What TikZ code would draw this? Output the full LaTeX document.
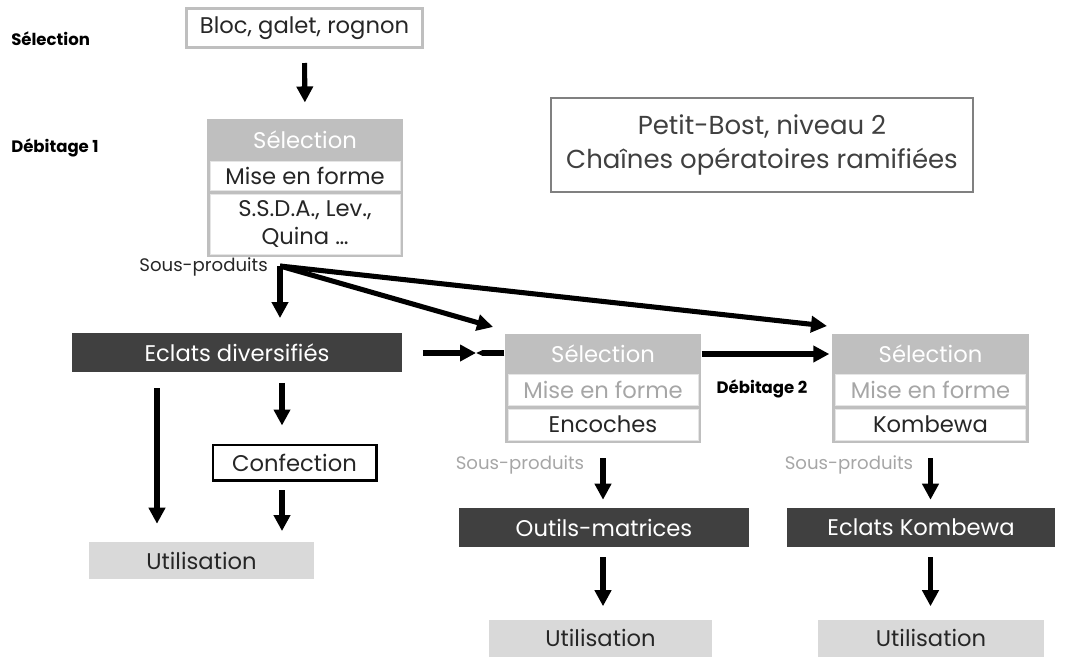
\documentclass[tikz,border=0pt]{standalone}
\usepackage{fontspec}
\setmainfont{Poppins}
\usetikzlibrary{positioning,arrows.meta,backgrounds,fit}
\definecolor{cframe}{RGB}{191,191,191}
\definecolor{cdark}{RGB}{64,64,64}
\definecolor{clight}{RGB}{217,217,217}
\definecolor{ctext}{RGB}{38,38,38}
\definecolor{cgraytext}{RGB}{166,166,166}
\definecolor{ctitle}{RGB}{128,128,128}

\begin{document}
\begin{tikzpicture}[
  x=0.75pt,y=-0.75pt,
  font=\fontsize{17}{21}\selectfont,
  >={Triangle[length=12pt,width=12pt]},
  fleche/.style={->,line width=3.8pt},
  headtext/.style={text=white,minimum width=142.5pt,inner sep=0pt},
  rowbox/.style={fill=white,draw=white!90!black,line width=0.4pt,minimum width=142.5pt,inner sep=0pt,text=ctext},
  frame/.style={fill=cframe,inner sep=2.25pt},
  darkbox/.style={fill=cdark,text=white,minimum height=29.25pt,inner sep=0pt},
  usebox/.style={fill=clight,text=ctext,minimum height=27.75pt,inner sep=0pt},
  sidelabel/.style={font=\fontsize{12.4}{14}\selectfont\bfseries,anchor=west,inner sep=0pt},
  sptext/.style={font=\fontsize{13.6}{16}\selectfont,inner sep=0pt},
]
\useasboundingbox (0,0) rectangle (1070,657);

% ===== side labels =====
\node[sidelabel] (lsel) at (11,39) {Sélection};
\node[sidelabel] (ldeb1) at (11,148) {Débitage 1};

% ===== SELECTION =====
\node[draw=cframe,line width=2pt,fill=white,text=ctext,minimum width=177pt,minimum height=29.5pt,inner sep=0pt]
  (bloc) at (304.5,28) {Bloc, galet, rognon};

% ===== DEBITAGE 1 =====
\node[headtext,minimum height=27pt] (sel1) at (305,140) {Sélection};
\node[rowbox,minimum height=21.75pt,below=2.25pt of sel1] (mise1) {Mise en forme};
\node[rowbox,minimum height=45pt,align=center,below=2.25pt of mise1] (ssda1) {S.S.D.A., Lev.,\\Quina \dots};
\begin{scope}[on background layer]
  \node[frame,fit=(sel1)(ssda1)] (blk1) {};
\end{scope}
\draw[fleche,shorten <=10.5pt,shorten >=12pt] (bloc.south) -- (blk1.north);

% ===== sous-produits (fork) =====
\coordinate (fork) at (280,266);
\coordinate (tip2) at (493,327);
\coordinate (tip3) at (827,326);
\node[sptext,text=ctext,anchor=east] (sp1) at (268,267) {Sous-produits};

% ===== ECLATS DIVERSIFIES =====
\node[darkbox,minimum width=247.5pt] (ecl) at (237,352.5) {Eclats diversifiés};
\draw[fleche,shorten >=11pt] (fork) -- (fork |- ecl.north);
\draw[fleche] (fork) -- (tip2);
\draw[fleche] (fork) -- (tip3);

\coordinate (g1) at (157,0);
\coordinate (g2) at (282,0);
\node[draw=black,line width=2pt,fill=white,text=ctext,minimum width=122.5pt,minimum height=26.5pt,inner sep=0pt]
  (conf) at (294.5,462.5) {Confection};
\node[usebox,minimum width=168.75pt] (util1) at (201.5,560.5) {Utilisation};
\draw[fleche,shorten <=12pt,shorten >=13.5pt] (ecl.south -| g1) -- (util1.north -| g1);
\draw[fleche,shorten <=8pt,shorten >=13.5pt] (ecl.south -| g2) -- (conf.north -| g2);
\draw[fleche,shorten <=6.5pt,shorten >=8pt] (conf.south -| g2) -- (util1.north -| g2);

% ===== DEBITAGE 2 : ENCOCHES =====
\node[headtext,minimum height=25.5pt] (sel2) at (603,354) {Sélection};
\node[rowbox,minimum height=23.25pt,text=cgraytext,below=2.25pt of sel2] (mise2) {Mise en forme};
\node[rowbox,minimum height=23.25pt,below=2.25pt of mise2] (enc2) {Encoches};
\begin{scope}[on background layer]
  \node[frame,fit=(sel2)(enc2)] (blk2) {};
\end{scope}
\coordinate (meet) at (476,353);
\draw[fleche,shorten <=15.5pt] (ecl.east |- meet) -- (meet);
\draw[line width=3.8pt,-{Triangle[length=5pt,width=4pt]}] (blk2.west |- meet) -- (meet);

\node[font=\fontsize{12.4}{14}\selectfont\bfseries,inner sep=0pt] (ldeb2) at (762,389) {Débitage 2};

% ===== DEBITAGE 2 : KOMBEWA =====
\node[headtext,minimum height=25.5pt] (sel3) at (930.5,354) {Sélection};
\node[rowbox,minimum height=23.25pt,text=cgraytext,below=2.25pt of sel3] (mise3) {Mise en forme};
\node[rowbox,minimum height=23.25pt,below=2.25pt of mise3] (komb3) {Kombewa};
\begin{scope}[on background layer]
  \node[frame,fit=(sel3)(komb3)] (blk3) {};
\end{scope}
\draw[fleche,shorten >=2pt] (blk2.east |- sel2.center) -- (blk3.west |- sel3.center);

% ===== produits =====
\node[sptext,text=cgraytext] (sp2) at (520,465) {Sous-produits};
\node[sptext,text=cgraytext] (sp3) at (849,465) {Sous-produits};
\node[darkbox,minimum width=217.5pt] (outil) at (604,527.5) {Outils-matrices};
\node[darkbox,minimum width=201pt] (ekomb) at (921,527.5) {Eclats Kombewa};
\node[usebox,minimum width=167.25pt] (util2) at (600.5,638) {Utilisation};
\node[usebox,minimum width=169.5pt] (util3) at (931,638) {Utilisation};
\draw[fleche,shorten <=11pt,shorten >=6pt] (blk2.south) -- (outil.north -| blk2.south);
\draw[fleche,shorten <=7.5pt,shorten >=9.75pt] (outil.south -| blk2.south) -- (util2.north -| blk2.south);
\draw[fleche,shorten <=11pt,shorten >=6pt] (blk3.south) -- (ekomb.north -| blk3.south);
\draw[fleche,shorten <=7.5pt,shorten >=9.75pt] (ekomb.south -| blk3.south) -- (util3.north -| blk3.south);

% ===== title =====
\node[draw=ctitle,line width=1.1pt,text=cdark,minimum width=316.5pt,minimum height=70.5pt,align=center,
      font=\fontsize{19.5}{25}\selectfont] (titre) at (762,145) {Petit-Bost, niveau 2\\Chaînes opératoires ramifiées};

\end{tikzpicture}
\end{document}
